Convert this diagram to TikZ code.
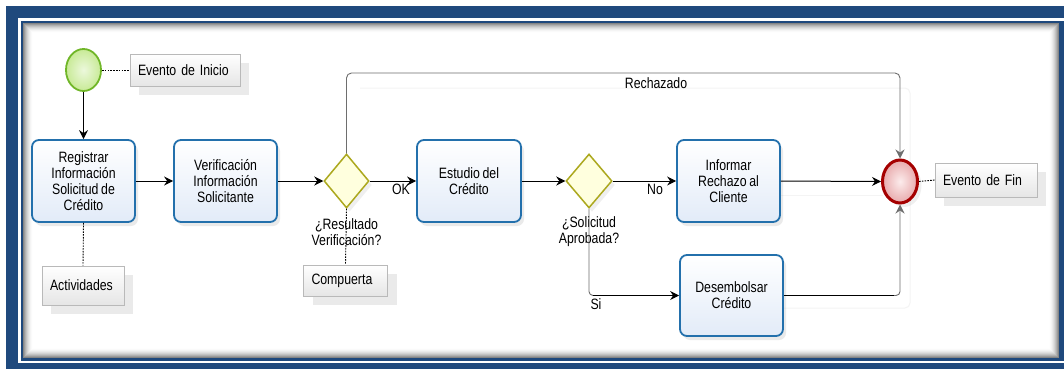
\documentclass[tikz,border=0pt]{standalone}
\usepackage{fontspec}
\setmainfont{Liberation Sans}[FakeStretch=0.82,WordSpace=0.78]
\usetikzlibrary{shapes.geometric,arrows.meta,shadows}
\definecolor{frameblue}{RGB}{31,73,125}
\definecolor{taskblue}{RGB}{35,112,172}
\definecolor{taskfill}{RGB}{226,235,248}
\definecolor{gwborder}{RGB}{172,168,30}
\definecolor{gwfill}{RGB}{255,255,222}
\definecolor{startborder}{RGB}{112,182,40}
\definecolor{startin}{RGB}{236,248,220}
\definecolor{startout}{RGB}{200,234,150}
\definecolor{endborder}{RGB}{165,0,0}
\definecolor{endin}{RGB}{252,236,236}
\definecolor{endout}{RGB}{232,170,172}
\definecolor{linegray}{RGB}{110,110,110}
\begin{document}
\begin{tikzpicture}[x=1pt,y=-1pt,
  every node/.style={font=\fontsize{15}{16}\selectfont, inner sep=0pt},
  task/.style={draw=taskblue, line width=1.8pt, rounded corners=7pt,
    top color=white, bottom color=taskfill, align=center,
    drop shadow={shadow xshift=3pt, shadow yshift=-4pt, opacity=0.16}},
  gateway/.style={diamond, draw=gwborder, line width=1.5pt, fill=gwfill,
    drop shadow={shadow xshift=3pt, shadow yshift=-4pt, opacity=0.12}},
  startev/.style={ellipse, draw=startborder, line width=1.8pt,
    inner color=startin, outer color=startout},
  endevst/.style={ellipse, draw=endborder, line width=3pt,
    inner color=endin, outer color=endout,
    drop shadow={shadow xshift=4pt, shadow yshift=-4pt, opacity=0.12}},
  note/.style={draw=gray!55, line width=0.8pt, top color=white, bottom color=gray!20,
    inner xsep=8pt,
    drop shadow={shadow xshift=9pt, shadow yshift=-9pt, opacity=0.16}},
  lbl/.style={align=center},
  tipst/.style={-{Stealth[length=9pt,width=9pt,inset=3pt]}},
  flow/.style={black, line width=1pt, tipst},
  flowline/.style={black, line width=1pt},
  vline/.style={linegray, line width=0.9pt},
  notelink/.style={black, line width=0.9pt, dash pattern=on 1.6pt off 1.2pt},
  faint/.style={gray!9, line width=1pt}
]
\useasboundingbox (0,0) rectangle (1064,369);
% frame
\fill[white] (0,0) rectangle (1064,369);
\fill[frameblue] (6,6) rectangle (1064,369);
\fill[white] (18,18) rectangle (1064,363);
\fill[frameblue] (21,21) rectangle (1064,361);
\fill[white] (23,23) rectangle (1059,358);
\foreach \i [evaluate=\i as \v using {48*(1-\i/10)^2}] in {0,...,9}
  \draw[line width=1pt, black!\v] (23.5+\i,23.5+\i) rectangle (1058.5-\i,357.5-\i);

% faint connector shadows
\draw[faint, rounded corners=5pt] (360,88) -- (910,88) -- (910,308) -- (783,308);
\draw[faint] (780,195) -- (883,195);

% nodes
\node[startev, minimum width=35pt, minimum height=42pt] (start) at (83.5,70) {};
\node[note, text width=94pt, minimum height=32pt] (startnote) at (185,70) {\mbox{Evento de Inicio}\hfill};
\node[task, minimum width=103pt, minimum height=82pt] (t1) at (83.5,181)
  {Registrar\\Información\\Solicitud de\\Crédito};
\node[task, minimum width=103pt, minimum height=82pt] (t2) at (225.5,181)
  {Verificación\\Información\\Solicitante};
\node[note, text width=66pt, minimum height=39pt] (actnote) at (83,285.5) {\mbox{Actividades}\hfill};
\node[gateway, minimum width=45pt, minimum height=54pt] (g1) at (346.5,181) {};
\node[note, text width=68pt, minimum height=31pt] (compnote) at (345.5,280.5) {\mbox{Compuerta}\hfill};
\node[task, minimum width=104pt, minimum height=82pt] (t3) at (469,181)
  {Estudio del\\Crédito};
\node[gateway, minimum width=46pt, minimum height=54pt] (g2) at (589,181) {};
\node[task, minimum width=103pt, minimum height=82pt] (t4) at (728.5,181)
  {Informar\\Rechazo al\\Cliente};
\node[task, minimum width=103pt, minimum height=81pt] (t5) at (731.5,295.5)
  {Desembolsar\\Crédito};
\node[endevst, minimum width=35pt, minimum height=43pt] (endev) at (900,181.5) {};
\node[note, text width=86pt, minimum height=34pt] (endnote) at (986,180) {\mbox{Evento de Fin}\hfill};

% annotation links
\draw[notelink] (start.east) -- (startnote.west);
\draw[notelink] (t1.south) -- (actnote.north);
\draw[notelink] (g1.south) -- (compnote.north);
\draw[notelink] (endev.east) -- (endnote.west);

% labels
\node[lbl] (lres) at (346.5,232) {¿Resultado\\Verificación?};
\node[lbl] (lsol) at (589,232) {¿Solicitud\\Aprobada?};

% flows
\draw[flow] (start.south) -- (t1.north);
\draw[flow] (t1.east) -- (t2.west);
\draw[flow] (t2.east) -- (g1.west);
\draw[flow] (g1.east) -- (t3.west);
\draw[flow] (t3.east) -- (g2.west);
\draw[flow] (g2.east) -- (t4.west);
\draw[flow] (t4.east) -- (endev.west);
\coordinate (rtop) at (0,73);
\draw[vline, rounded corners=5pt, tipst] (g1.north) -- (g1.north |- rtop)
  -- (endev.north |- rtop) -- (endev.north);
\draw[vline, rounded corners=4pt] (g2.south) -- (g2.south |- t5.west) -- ++(6,0);
\draw[flow] ([xshift=4pt]g2.south |- t5.west) -- (t5.west);
\draw[flowline] (t5.east) -- ([xshift=-4pt]t5.east -| endev.south);
\draw[vline, rounded corners=4pt, tipst] ([xshift=-6pt]t5.east -| endev.south)
  -- (t5.east -| endev.south) -- (endev.south);

\node (lrech) at (656,83) {Rechazado};
\node (lok) at (401,189) {OK};
\node (lno) at (655,189) {No};
\node (lsi) at (596,304) {Si};
\end{tikzpicture}
\end{document}
